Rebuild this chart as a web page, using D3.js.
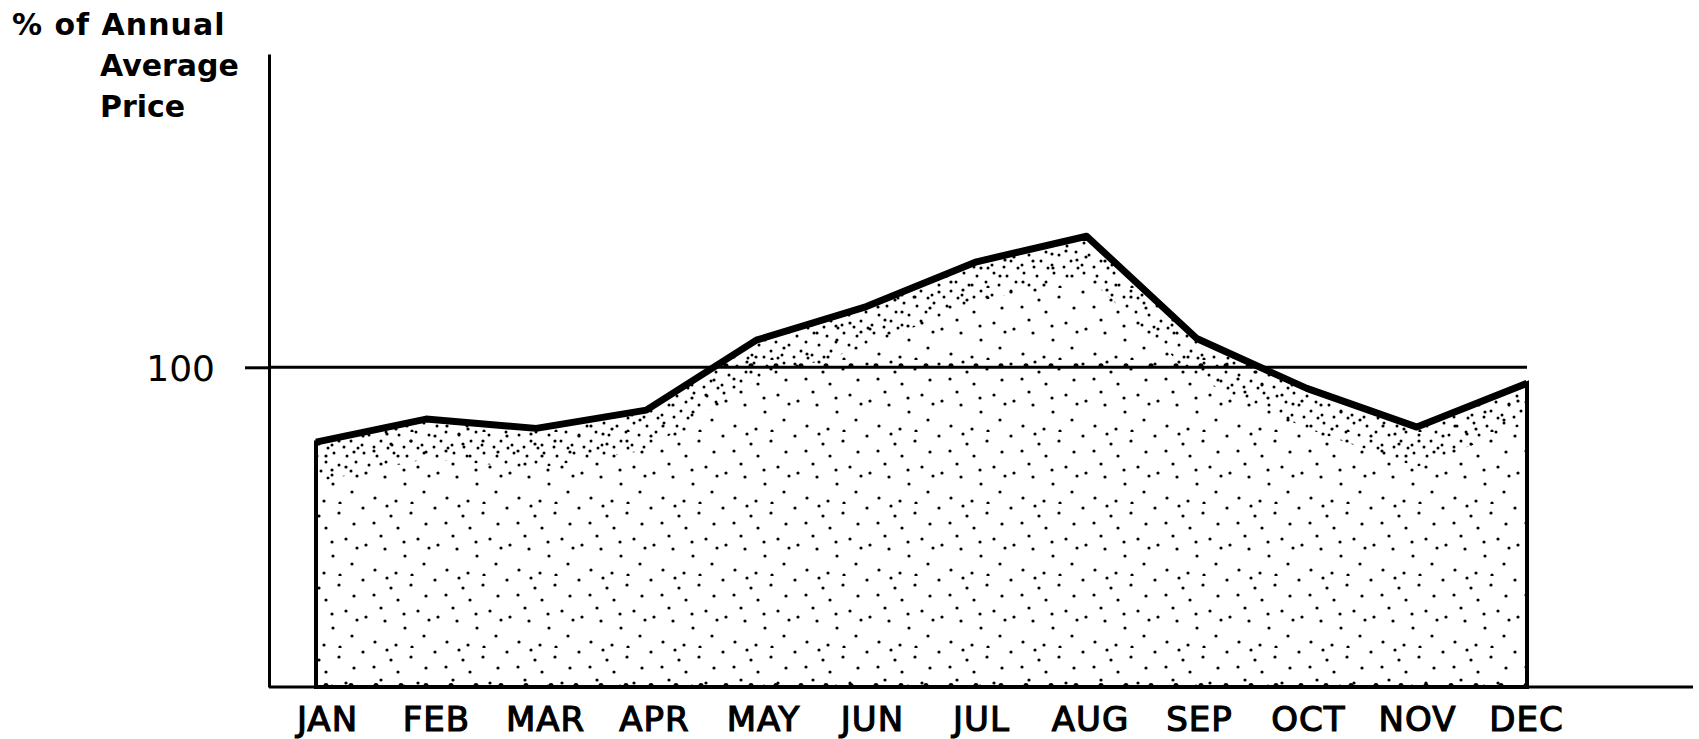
<!DOCTYPE html>
<html>
<head>
<meta charset="utf-8">
<script src="https://cdn.jsdelivr.net/npm/d3@7"></script>
<style>
  html, body { margin: 0; padding: 0; background: #fff; }
  svg { display: block; }
</style>
</head>
<body>
<div class="chart"></div>
<script>
// monthly price as % of the annual average
const months = ["JAN", "FEB", "MAR", "APR", "MAY", "JUN", "JUL", "AUG", "SEP", "OCT", "NOV", "DEC"];
const pricePct = [76.6, 83.8, 80.9, 86.6, 108.5, 119.0, 133.0, 141.0, 109.0, 93.4, 81.3, 95.0];
const yTicks = [100];
const titleLines = ["% of Annual", "Average", "Price"];

const width = 1699;
const height = 739;
const axisX = 269;
const baseY = 687;

const xScale = d3.scalePoint()
    .domain(months)
    .range([316, 1527]);

// month labels sit a little off the data points in the original
const labelScale = d3.scalePoint()
    .domain(months)
    .range([327, 1526]);

const yScale = d3.scaleLinear()
    .domain([0, 198])
    .range([baseY, 54]);

const svg = d3.select(".chart")
    .append("svg")
    .attr("width", width)
    .attr("height", height);

const defs = svg.append("defs");

// stipple texture for the filled area
const stipple = defs.append("pattern")
    .attr("id", "stipple")
    .attr("patternUnits", "userSpaceOnUse")
    .attr("width", 72)
    .attr("height", 72);
const dots = [[3,4],[27,2],[51,9],[66,20],[14,19],[38,24],[58,35],[6,41],[25,45],[45,52],[64,60],[15,66],[36,69],[31,12],[52,71],[69,44],[21,32],[44,38]];
stipple.selectAll("circle")
    .data(dots)
    .enter()
    .append("circle")
    .attr("cx", d => d[0])
    .attr("cy", d => d[1])
    .attr("r", 1.6)
    .attr("fill", "#000");

// denser stipple just under the price line
const stippleDense = defs.append("pattern")
    .attr("id", "stippleDense")
    .attr("patternUnits", "userSpaceOnUse")
    .attr("width", 30)
    .attr("height", 30);
const denseDots = [[4,3],[17,6],[26,12],[9,15],[21,21],[2,25],[14,27],[28,28]];
stippleDense.selectAll("circle")
    .data(denseDots)
    .enter()
    .append("circle")
    .attr("cx", d => d[0])
    .attr("cy", d => d[1])
    .attr("r", 1.5)
    .attr("fill", "#000");

const area = d3.area()
    .x(d => xScale(d.month))
    .y0(baseY)
    .y1(d => yScale(d.value));

const band = d3.area()
    .x(d => xScale(d.month))
    .y0(d => yScale(d.value) + 40)
    .y1(d => yScale(d.value));

const line = d3.line()
    .x(d => xScale(d.month))
    .y(d => yScale(d.value));

const data = months.map((m, i) => ({ month: m, value: pricePct[i] }));

defs.append("clipPath")
    .attr("id", "areaClip")
    .append("path")
    .attr("d", area(data));

// filled area
svg.append("path")
    .attr("d", area(data))
    .attr("fill", "url(#stipple)")
    .attr("stroke", "#000")
    .attr("stroke-width", 4);

svg.append("path")
    .attr("d", band(data))
    .attr("fill", "url(#stippleDense)")
    .attr("clip-path", "url(#areaClip)");

// reference line at 100
svg.append("line")
    .attr("x1", axisX)
    .attr("x2", xScale("DEC"))
    .attr("y1", yScale(100))
    .attr("y2", yScale(100))
    .attr("stroke", "#000")
    .attr("stroke-width", 3);

// dotted bumps where the stipple sits on lines
const bumps = svg.append("g").attr("clip-path", "url(#areaClip)");
[0, 100].forEach(v => {
    bumps.append("line")
        .attr("x1", xScale("JAN") + 10)
        .attr("x2", xScale("DEC"))
        .attr("y1", yScale(v) - 1.5)
        .attr("y2", yScale(v) - 1.5)
        .attr("stroke", "#000")
        .attr("stroke-width", 5)
        .attr("stroke-linecap", "round")
        .attr("stroke-dasharray", "0 25");
});

// y axis
const yAxis = svg.append("g")
    .attr("transform", `translate(${axisX},0)`)
    .call(d3.axisLeft(yScale)
        .tickValues(yTicks)
        .tickSizeInner(24)
        .tickSizeOuter(0)
        .tickPadding(30));
yAxis.select(".domain").attr("stroke-width", 3);
yAxis.selectAll(".tick line").attr("stroke-width", 3);
yAxis.selectAll(".tick text")
    .attr("font-family", "'DejaVu Sans', sans-serif")
    .attr("font-size", 36)
    .attr("dy", "0.36em")
    .attr("fill", "#000");

// baseline
svg.append("line")
    .attr("x1", axisX)
    .attr("x2", 1693)
    .attr("y1", baseY)
    .attr("y2", baseY)
    .attr("stroke", "#000")
    .attr("stroke-width", 3);

// month labels
const xAxis = svg.append("g")
    .attr("transform", `translate(0,${baseY})`)
    .call(d3.axisBottom(labelScale).tickSize(0));
xAxis.select(".domain").remove();
xAxis.selectAll(".tick text")
    .attr("dy", null)
    .attr("y", 44)
    .attr("font-family", "'DejaVu Sans', sans-serif")
    .attr("font-size", 34)
    .attr("letter-spacing", 1)
    .attr("fill", "#000")
    .attr("stroke", "#000")
    .attr("stroke-width", 1.2);

// price line
svg.append("path")
    .attr("d", line(data))
    .attr("fill", "none")
    .attr("stroke", "#000")
    .attr("stroke-width", 7)
    .attr("stroke-linejoin", "round");

// axis title
svg.append("g")
    .selectAll("text")
    .data(titleLines)
    .enter()
    .append("text")
    .attr("x", (d, i) => i === 0 ? 12 : 100)
    .attr("y", (d, i) => 35 + i * 41)
    .attr("font-family", "'DejaVu Sans', sans-serif")
    .attr("font-weight", "bold")
    .attr("font-size", 30)
    .attr("letter-spacing", (d, i) => i === 0 ? 1 : 0)
    .text(d => d);
</script>
</body>
</html>
